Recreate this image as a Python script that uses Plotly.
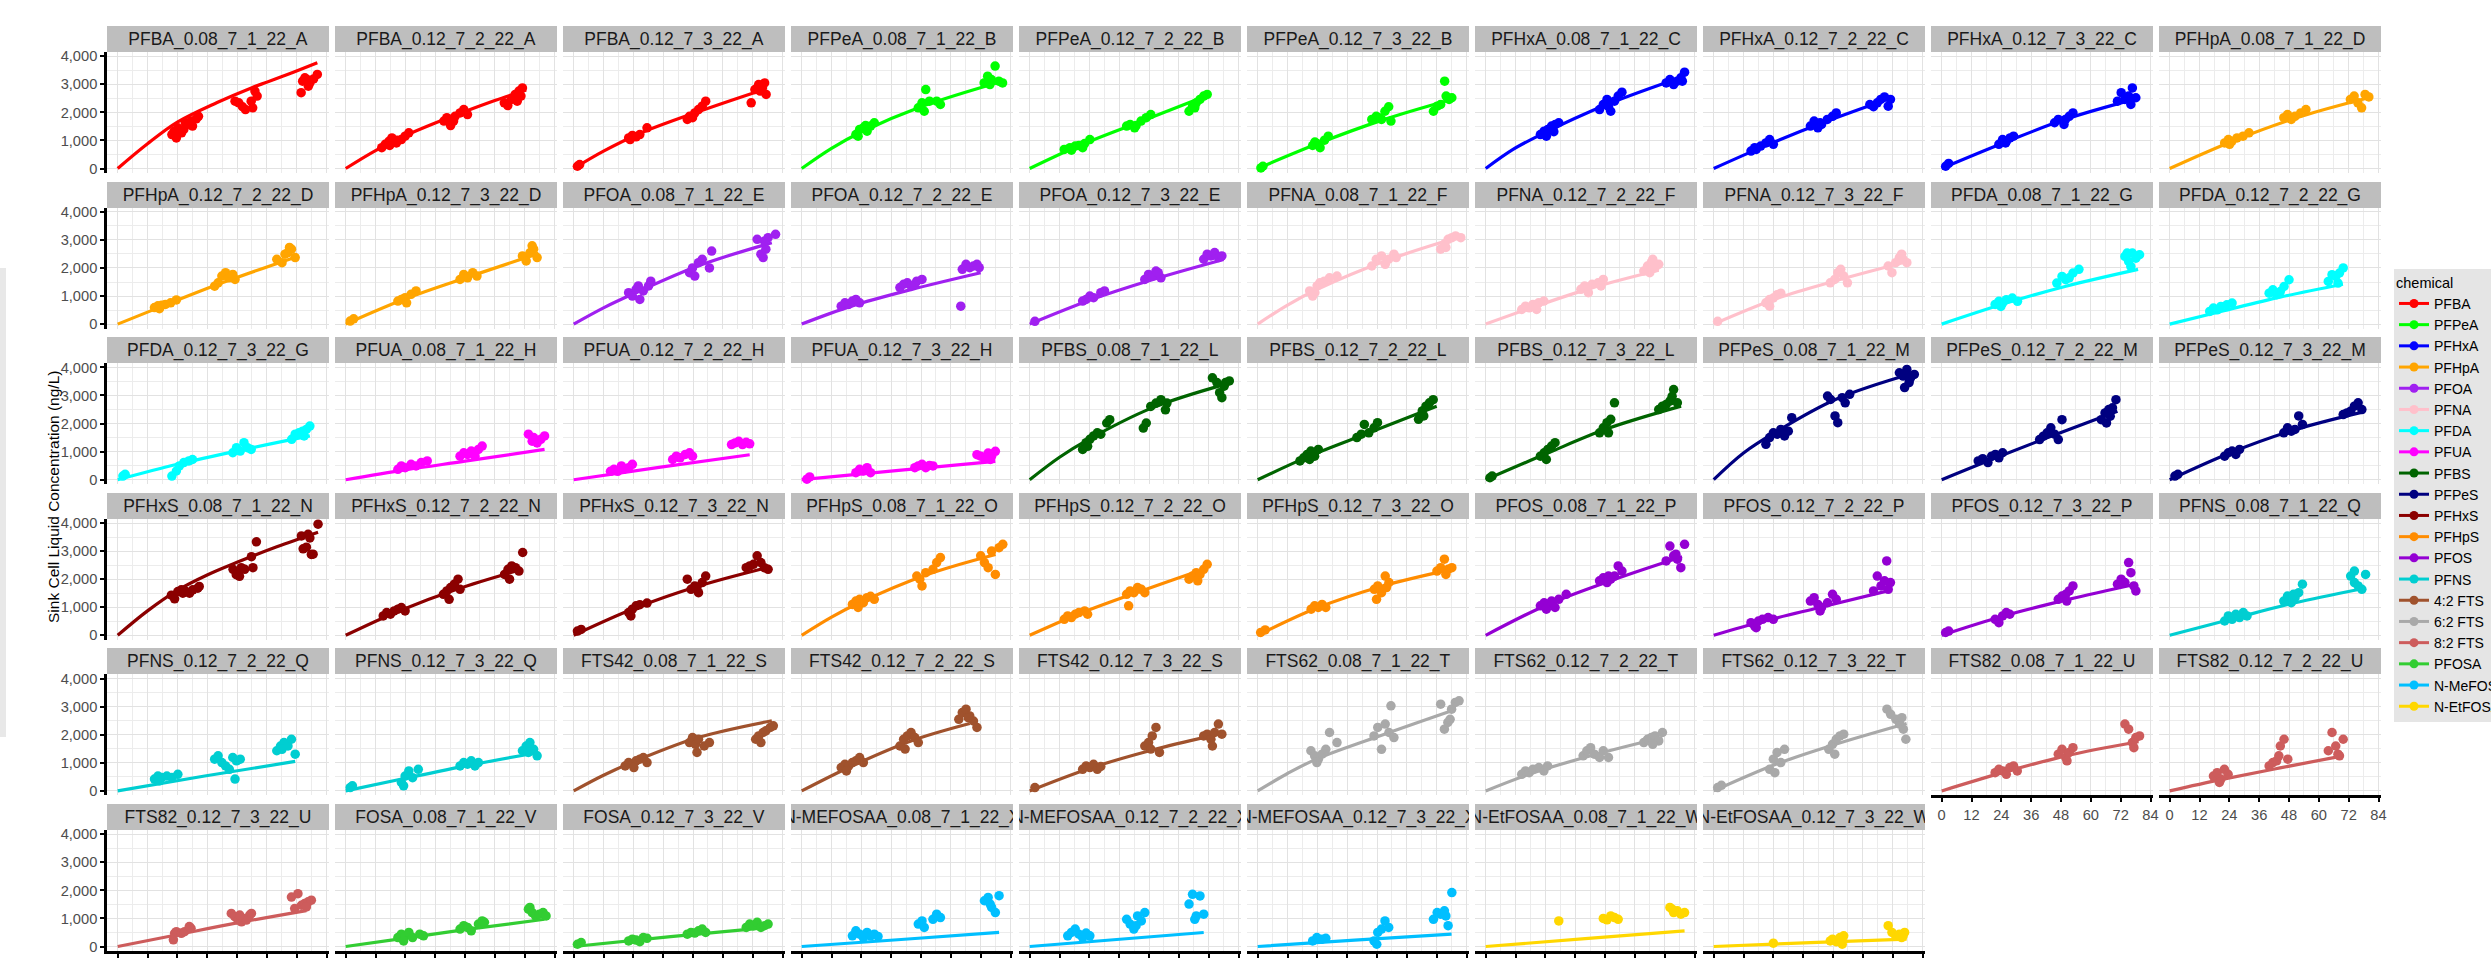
import plotly.graph_objects as go

# ---------------- data ----------------
panels = [
    "PFBA_0.08_7_1_22_A", "PFBA_0.12_7_2_22_A", "PFBA_0.12_7_3_22_A", "PFPeA_0.08_7_1_22_B", "PFPeA_0.12_7_2_22_B",
    "PFPeA_0.12_7_3_22_B", "PFHxA_0.08_7_1_22_C", "PFHxA_0.12_7_2_22_C", "PFHxA_0.12_7_3_22_C", "PFHpA_0.08_7_1_22_D",
    "PFHpA_0.12_7_2_22_D", "PFHpA_0.12_7_3_22_D", "PFOA_0.08_7_1_22_E", "PFOA_0.12_7_2_22_E", "PFOA_0.12_7_3_22_E",
    "PFNA_0.08_7_1_22_F", "PFNA_0.12_7_2_22_F", "PFNA_0.12_7_3_22_F", "PFDA_0.08_7_1_22_G", "PFDA_0.12_7_2_22_G",
    "PFDA_0.12_7_3_22_G", "PFUA_0.08_7_1_22_H", "PFUA_0.12_7_2_22_H", "PFUA_0.12_7_3_22_H", "PFBS_0.08_7_1_22_L",
    "PFBS_0.12_7_2_22_L", "PFBS_0.12_7_3_22_L", "PFPeS_0.08_7_1_22_M", "PFPeS_0.12_7_2_22_M", "PFPeS_0.12_7_3_22_M",
    "PFHxS_0.08_7_1_22_N", "PFHxS_0.12_7_2_22_N", "PFHxS_0.12_7_3_22_N", "PFHpS_0.08_7_1_22_O", "PFHpS_0.12_7_2_22_O",
    "PFHpS_0.12_7_3_22_O", "PFOS_0.08_7_1_22_P", "PFOS_0.12_7_2_22_P", "PFOS_0.12_7_3_22_P", "PFNS_0.08_7_1_22_Q",
    "PFNS_0.12_7_2_22_Q", "PFNS_0.12_7_3_22_Q", "FTS42_0.08_7_1_22_S", "FTS42_0.12_7_2_22_S", "FTS42_0.12_7_3_22_S",
    "FTS62_0.08_7_1_22_T", "FTS62_0.12_7_2_22_T", "FTS62_0.12_7_3_22_T", "FTS82_0.08_7_1_22_U", "FTS82_0.12_7_2_22_U",
    "FTS82_0.12_7_3_22_U", "FOSA_0.08_7_1_22_V", "FOSA_0.12_7_3_22_V", "N-MEFOSAA_0.08_7_1_22_X", "N-MEFOSAA_0.12_7_2_22_X",
    "N-MEFOSAA_0.12_7_3_22_X", "N-EtFOSAA_0.08_7_1_22_W", "N-EtFOSAA_0.12_7_3_22_W",
]

panel_chemical = (
    ["PFBA"] * 3 + ["PFPeA"] * 3 + ["PFHxA"] * 3 + ["PFHpA"] * 3 + ["PFOA"] * 3 + ["PFNA"] * 3 + ["PFDA"] * 3
    + ["PFUA"] * 3 + ["PFBS"] * 3 + ["PFPeS"] * 3 + ["PFHxS"] * 3 + ["PFHpS"] * 3 + ["PFOS"] * 3 + ["PFNS"] * 3
    + ["4:2 FTS"] * 3 + ["6:2 FTS"] * 3 + ["8:2 FTS"] * 3 + ["PFOSA"] * 2 + ["N-MeFOSAA"] * 3 + ["N-EtFOSAA"] * 2
)

chemicals = ["PFBA", "PFPeA", "PFHxA", "PFHpA", "PFOA", "PFNA", "PFDA", "PFUA", "PFBS", "PFPeS", "PFHxS", "PFHpS",
             "PFOS", "PFNS", "4:2 FTS", "6:2 FTS", "8:2 FTS", "PFOSA", "N-MeFOSAA", "N-EtFOSAA"]
chemical_colors = ["#FF0000", "#00FF00", "#0000FF", "#FFA500", "#A020F0", "#FFC0CB", "#00FFFF", "#FF00FF", "#006400",
                   "#000080", "#8B0000", "#FF8C00", "#9400D3", "#00CED1", "#A0522D", "#A9A9A9", "#CD5C5C", "#32CD32",
                   "#00BFFF", "#FFD700"]

x_ticks = [0, 12, 24, 36, 48, 60, 72, 84]
y_ticks = [0, 1000, 2000, 3000, 4000]

# observed sink concentrations (time in h, ng/L)
obs_time = [
    [21.8,23.6,22.7,24.2,26.6,28.0,29.5,31.6,32.5,30.1,25.7,27.2,47.2,48.7,50.2,51.4,54.3,55.2,56.1,53.7,73.8,74.4,76.2,77.3,78.8,80.3,76.7,75.3],
    [14.5,15.9,17.4,18.6,20.4,22.4,23.9,25.4,17.7,20.7,39.5,40.7,42.2,44.0,46.0,47.5,49.0,43.4,63.8,65.2,66.7,68.2,69.7,71.1,70.5,69.0],
    [1.5,2.4,22.1,23.6,25.1,26.6,29.5,22.7,45.7,46.6,48.7,50.2,51.7,53.1,47.8,71.4,72.9,74.4,75.9,77.4,75.0,76.8],
    [21.8,23.3,24.8,26.3,27.7,29.2,22.7,25.7,46.9,48.4,49.9,54.3,55.8,51.4,49.3,73.4,74.8,77.8,79.3,80.8,76.3,75.7],
    [13.9,16.2,18.3,19.8,22.1,24.2,16.8,21.3,39.0,40.4,42.8,44.8,46.9,48.7,42.2,64.1,65.5,67.0,68.5,70.0,71.4,66.4],
    [1.3,2.1,22.1,23.9,25.1,26.9,28.4,23.0,45.9,47.7,49.8,51.2,52.7,53.6,48.8,70.7,72.2,75.2,75.8,77.0,78.1,73.6],
    [22.0,23.5,25.0,26.5,28.0,29.4,24.4,27.4,45.8,47.3,48.8,50.3,51.8,53.3,54.8,49.4,72.6,74.1,75.6,77.0,78.5,80.0,79.1],
    [15.0,16.5,18.9,21.0,22.5,24.0,17.1,38.9,40.4,41.9,43.4,45.7,47.8,49.3,42.8,62.8,64.3,65.8,67.2,68.7,70.2,71.1],
    [1.6,2.8,23.0,24.5,26.0,27.5,28.9,25.7,45.4,46.9,49.2,51.3,52.8,49.8,70.7,72.2,73.7,75.2,76.7,78.1,76.1],
    [22.1,23.6,25.0,27.1,29.5,31.9,24.1,45.9,47.4,48.9,50.4,52.7,54.8,72.7,74.2,75.7,77.2,78.6,80.1],
    [14.8,16.2,17.7,19.2,21.3,23.6,16.8,39.0,40.4,41.9,43.4,44.9,47.2,46.3,64.0,66.1,67.3,68.5,69.9,71.4,69.1],
    [1.8,3.2,21.0,22.4,23.9,26.3,28.3,24.5,46.0,47.5,49.0,51.1,52.8,71.1,72.6,74.1,75.6,77.0,75.0],
    [22.1,23.6,25.1,26.6,28.0,30.1,31.0,26.0,46.6,47.8,48.7,50.2,51.7,54.6,55.5,73.8,75.3,76.2,77.3,78.2,81.2,76.7],
    [15.9,17.4,18.9,20.4,21.8,23.3,39.5,41.0,42.5,44.0,46.3,48.4,45.5,64.6,66.1,67.6,69.1,70.5,71.4,64.0],
    [2.1,21.3,22.7,24.2,25.7,28.6,30.1,46.3,47.8,49.3,50.8,52.8,51.7,70.0,71.4,72.9,74.4,75.9,77.3],
    [20.9,22.1,23.9,25.0,26.8,28.9,31.9,23.0,45.9,47.7,49.8,51.3,52.7,54.8,55.7,73.6,75.1,76.6,78.1,79.6,81.7,75.7],
    [14.5,16.0,17.5,19.0,21.3,23.4,20.5,38.3,39.8,41.3,42.8,45.2,47.3,46.4,63.6,65.1,66.6,68.1,69.6,67.2,66.0],
    [1.6,21.0,22.5,24.0,25.5,27.0,22.5,46.9,48.7,49.9,51.1,52.3,53.8,70.2,71.7,73.2,74.7,76.2,77.7,75.6],
    [21.5,23.0,24.5,26.0,28.4,30.5,23.8,46.3,48.4,49.9,52.8,55.2,51.3,73.7,75.2,76.7,78.1,79.6,76.1,74.6],
    [16.1,17.6,19.1,20.6,23.0,25.1,40.0,41.5,43.0,46.0,48.0,44.5,63.8,65.3,66.8,68.3,69.8,67.7],
    [2.1,3.0,21.8,23.6,24.8,26.6,28.6,30.1,46.3,47.8,49.3,50.8,52.2,53.7,70.0,71.4,72.9,74.4,75.9,77.3,75.0],
    [21.0,22.4,23.9,26.3,28.3,30.4,32.8,46.0,47.5,49.0,50.5,53.4,54.9,52.0,73.5,75.6,77.0,78.5,80.0,75.0],
    [14.8,16.2,17.7,20.1,22.1,23.6,19.2,39.8,41.3,42.8,44.9,46.6,47.8,63.5,64.9,66.4,67.9,69.4,70.8],
    [2.1,3.2,21.8,23.3,24.8,26.3,27.7,45.5,46.9,48.4,49.9,51.4,52.8,70.5,72.0,73.5,75.0,76.4,77.9,75.9],
    [21.3,22.7,24.2,25.7,27.2,28.6,31.0,32.2,23.3,45.7,46.9,48.7,50.8,52.8,54.6,55.2,73.5,75.3,76.4,77.3,78.8,80.3,78.2],
    [17.0,18.5,19.9,21.4,22.9,24.4,20.9,39.9,41.7,42.9,44.7,46.8,48.2,64.7,66.2,67.7,69.1,70.6,66.8],
    [1.7,2.6,22.0,23.5,25.0,26.5,27.9,24.4,45.8,47.3,48.8,50.3,51.8,49.4,69.6,71.1,72.6,74.1,75.6,77.1,75.0],
    [21.0,22.5,24.0,25.5,27.0,28.5,30.0,31.4,45.8,47.0,48.8,49.9,51.7,52.9,54.7,74.7,76.2,77.7,79.2,80.7,76.8,78.6],
    [14.7,16.5,18.6,20.1,21.6,23.0,24.5,39.4,40.9,42.4,43.9,45.4,46.9,48.4,64.2,65.7,67.2,68.7,70.1,67.8,66.3],
    [2.1,3.3,22.1,23.6,25.1,26.6,28.1,45.9,47.4,48.9,50.4,51.9,53.4,69.8,71.3,72.8,74.3,75.8,77.3],
    [21.6,22.9,24.2,26.2,27.5,28.9,30.2,32.2,32.8,25.6,46.4,47.7,48.4,49.7,51.1,53.8,54.4,55.8,49.0,73.9,74.6,75.9,77.3,77.9,78.6,80.6,76.6],
    [15.1,16.5,18.0,19.5,21.0,22.4,23.9,39.3,40.7,42.2,43.7,45.2,46.0,41.6,63.9,65.3,66.8,68.3,69.7,71.2,65.9],
    [1.5,3.0,22.1,23.6,25.1,26.6,29.5,23.0,45.7,47.2,48.7,50.2,51.7,53.1,49.6,69.4,70.8,72.3,73.8,75.3,76.7,78.2],
    [20.4,21.8,23.3,24.8,26.3,27.7,29.2,22.7,46.3,47.5,48.4,49.9,52.8,54.3,55.8,72.0,73.5,75.0,76.4,77.9,79.4,80.9],
    [13.9,15.3,16.8,18.3,19.8,22.1,23.3,39.0,40.4,41.9,43.4,44.9,46.3,39.8,64.1,65.5,67.0,68.5,70.0,71.4,67.6],
    [1.2,3.0,21.5,22.9,24.4,25.9,27.4,46.9,48.3,49.8,51.3,52.8,47.8,51.8,72.1,73.6,75.1,76.6,78.1,75.7],
    [22.0,23.5,25.0,26.5,27.9,29.4,32.4,24.4,45.8,47.3,48.8,50.3,51.8,53.3,54.8,49.4,72.6,74.1,75.6,77.1,78.5,80.0,76.5],
    [15.0,16.5,18.0,19.6,21.9,24.0,17.1,38.9,40.4,41.9,43.4,45.8,47.8,49.3,42.8,64.3,65.8,67.3,68.7,69.6,70.2,71.1],
    [1.6,2.8,21.5,23.0,24.5,26.0,27.4,46.9,48.4,49.9,51.3,52.8,50.3,70.7,72.2,73.7,75.2,76.1,77.3,78.1],
    [22.1,23.6,25.1,26.6,28.1,29.6,31.1,45.9,47.4,48.9,50.4,51.9,53.4,49.8,72.8,74.3,75.8,77.3,78.8,74.3],
    [14.8,16.2,17.7,19.8,21.8,24.2,16.8,39.0,40.4,41.9,43.4,44.9,46.3,47.8,47.2,49.3,64.0,65.5,66.9,68.5,69.9,71.4,66.1],
    [1.8,2.7,22.4,23.9,25.4,26.9,23.3,29.2,46.0,47.5,49.0,50.5,52.0,53.4,71.1,72.6,74.1,75.6,77.0,73.5],
    [20.7,22.1,23.6,25.1,26.6,28.0,29.5,24.2,46.6,47.8,49.0,50.2,52.5,54.6,49.6,73.2,74.4,76.2,77.3,79.1,80.3,75.3],
    [15.9,17.4,18.9,20.4,21.8,23.3,24.8,18.0,39.5,41.0,42.5,44.0,45.5,46.9,41.6,63.2,64.6,66.1,67.6,69.1,70.5,67.0],
    [2.1,21.3,22.7,24.2,25.7,27.2,28.6,46.3,47.8,49.3,50.8,52.2,48.7,70.0,71.4,72.9,74.4,75.9,77.3,73.5],
    [21.4,22.9,24.4,25.9,27.4,28.9,31.9,23.8,46.8,48.3,49.8,51.3,52.8,53.6,54.8,73.6,75.1,76.5,78.0,79.5,81.0,77.4],
    [14.5,16.0,17.5,19.0,21.4,23.4,24.9,39.2,40.7,42.2,43.7,45.8,47.3,49.4,63.6,65.1,66.6,68.1,69.6,71.1,67.2],
    [1.6,3.1,22.5,24.0,25.5,27.0,28.5,24.6,46.3,47.8,49.3,50.8,52.3,48.7,69.7,71.2,73.3,74.8,76.3,77.3,75.7],
    [21.5,23.0,24.5,26.0,27.4,28.9,30.4,46.9,48.4,49.9,51.3,52.8,50.4,73.7,75.2,76.7,78.1,79.6,77.3],
    [17.6,19.1,20.6,22.0,23.5,20.0,40.0,41.5,43.0,44.5,46.0,47.5,43.9,63.8,65.3,66.8,68.3,69.8,67.7],
    [22.4,22.9,23.6,25.6,26.9,29.5,28.8,45.7,47.1,48.4,49.8,50.4,51.8,53.1,53.8,49.1,69.9,72.5,71.2,73.9,75.2,76.6,77.9,75.9],
    [21.0,22.4,23.9,25.4,26.9,29.8,31.3,23.3,46.0,47.5,49.0,50.5,53.4,54.9,55.8,73.5,75.0,76.4,77.9,79.4,80.6,74.1],
    [1.5,3.0,22.1,23.6,25.1,28.0,29.5,26.6,45.7,47.2,48.7,50.2,51.7,53.1,69.4,70.8,72.3,73.8,75.3,76.7,78.2],
    [20.4,21.8,23.3,24.8,26.3,27.7,29.2,30.7,46.9,48.4,49.3,52.8,54.3,55.8,73.5,75.0,76.4,77.9,79.4,75.8],
    [15.3,16.8,18.3,19.8,21.3,22.7,24.2,39.0,40.4,41.9,43.4,44.9,46.3,42.8,64.1,65.5,67.0,68.5,70.0,66.4],
    [22.1,23.8,25.9,27.4,46.8,48.3,49.8,51.2,52.7,47.9,70.7,72.2,73.6,75.1,76.6,78.1,75.7],
    [29.4,47.3,48.8,51.8,53.3,50.3,74.1,75.6,77.1,78.5,80.0,75.0],
    [24.0,47.8,49.3,50.8,51.7,52.3,46.9,70.2,71.7,73.2,74.7,76.2,76.8,75.6],
]

obs_conc = [
    [1210,1090,1330,1450,1390,1570,1690,1770,1860,1510,1270,1630,2400,2340,2200,2100,2160,2760,2580,2400,2700,3110,3170,3050,3190,3350,2930,3230],
    [740,860,970,1090,910,1030,1150,1270,820,1010,1690,1810,1530,1860,1980,2100,1920,1690,2340,2240,2460,2640,2760,2870,2580,2400],
    [80,140,1090,1180,1130,1210,1450,1030,1750,1860,1980,2100,2220,2400,1810,2340,2810,2990,2870,2640,2760,3050],
    [1210,1390,1450,1330,1510,1630,1150,1530,2160,2340,2810,2400,2280,2400,2040,3050,3290,3650,3110,3050,3170,2990],
    [680,740,800,820,890,1030,650,740,1510,1570,1530,1690,1810,1920,1450,2040,2220,2340,2460,2580,2640,2160],
    [20,80,820,890,740,1010,1150,940,1750,1860,1750,2040,2200,1690,1810,2040,2220,3110,2580,2460,2520,2280],
    [1210,1330,1390,1510,1570,1630,1150,1310,2100,2280,2460,2040,2400,2580,2720,2200,3050,3170,2990,3110,3230,3430,3110],
    [620,740,800,910,1030,860,680,1510,1690,1450,1570,1750,1860,1980,1630,2280,2200,2340,2460,2550,2220,2460],
    [80,180,860,1030,970,1090,1150,910,1630,1750,1570,1860,1980,1750,2400,2700,2460,2580,2870,2520,2280],
    [910,1030,970,1090,1150,1270,860,1810,1920,1750,1860,1980,2100,2460,2580,2340,2160,2640,2550],
    [590,650,670,700,760,860,550,1350,1470,1710,1830,1650,1590,1770,2310,2190,2490,2550,2670,2370,2730],
    [110,190,820,880,940,1060,1180,760,1590,1770,1650,1830,1710,2430,2250,2540,2670,2370,2790],
    [1120,1000,1240,880,1180,1360,1530,1360,1830,2000,1710,2190,2310,2000,2600,3020,2490,2370,2670,3080,3200,2960],
    [640,760,700,820,880,760,1300,1420,1470,1360,1530,1590,1420,1950,2130,2010,2070,2130,2010,640],
    [100,820,880,1000,940,1120,1180,1590,1770,1710,1890,1650,1830,2310,2490,2430,2550,2370,2430],
    [1180,1000,1360,1470,1530,1650,1710,1120,2070,2310,2430,2130,2310,2490,2370,2670,2850,3020,3080,3140,3080,2730],
    [520,640,580,700,760,820,520,1240,1360,1120,1420,1470,1590,1360,1890,2070,2190,2010,2130,2310,1830],
    [100,760,880,930,1050,1100,640,1470,1590,1830,1950,1710,1470,2070,1830,2190,2370,2310,2190,2490],
    [700,810,750,870,930,810,630,1460,1700,1580,1820,1950,1650,2410,2230,2530,2350,2470,2050,2530],
    [450,570,510,630,690,750,1100,1220,1050,1340,1580,1160,1520,1760,1700,1820,2000,1460],
    [130,190,130,310,490,610,670,720,960,1140,1020,1320,1140,1080,1440,1620,1670,1730,1790,1910,1560],
    [370,490,430,550,490,610,670,840,960,900,1020,1080,1200,840,1620,1500,1310,1440,1560,1370],
    [300,370,300,370,430,550,490,720,840,780,900,960,840,1250,1310,1370,1250,1330,1280],
    [20,100,250,370,310,430,250,430,490,550,430,510,490,890,840,780,950,840,1010,720],
    [1080,1320,1440,1560,1670,1620,2020,2140,1190,1840,2020,2610,2730,2850,2490,2730,3630,3460,3100,2920,3460,3520,3330],
    [670,780,900,1020,840,1080,720,1500,1620,1970,1670,1850,2030,2150,2450,2620,2740,2850,2270],
    [70,130,840,960,1080,1200,1320,720,1670,1850,2030,2150,2740,1670,2500,2620,2680,2800,3210,2740,2970],
    [1260,1500,1670,1620,1790,1560,1730,2210,2980,2860,2270,2030,2920,2740,3040,3810,3690,3930,3630,3750,3280,3460],
    [670,750,610,840,900,780,960,1430,1550,1670,1850,1620,1430,2140,2140,2380,2500,2560,2850,2260,2020],
    [130,190,840,960,1020,900,1080,1670,1850,1730,1790,2270,1970,2320,2380,2440,2620,2740,2500],
    [1430,1300,1560,1500,1560,1500,1620,1680,1740,1620,2350,2160,2220,2410,2350,2800,2410,3330,2100,3540,3080,3140,3470,2880,2890,3960,3600],
    [690,810,750,870,930,990,870,1460,1580,1700,1820,2000,1640,1280,2170,2350,2470,2410,2290,2950,2000],
    [150,210,810,930,1050,1090,1150,690,2000,1640,1760,1520,1880,2110,1700,2410,2470,2530,2830,2590,2410,2350],
    [1100,1220,1280,1160,1340,1390,1280,990,2110,2000,1760,2230,2350,2590,2770,2830,2590,2410,3000,2170,3120,3240],
    [570,690,630,750,810,870,750,1460,1580,1520,1700,1640,1520,1050,2000,2110,2230,2170,2350,2530,1940],
    [100,190,930,1050,990,1100,990,1640,1760,1520,2110,1880,1280,1700,2290,2410,2710,2350,2410,2170],
    [1050,1160,1100,1220,990,1280,1460,930,1940,2050,1880,2000,2110,2470,2290,2110,2650,3180,2830,2710,2410,3240,2890],
    [450,330,510,570,630,570,270,1220,1340,1100,990,1160,1460,1280,870,1580,2110,1760,1940,2650,1640,1880],
    [100,150,570,450,690,810,750,1280,1400,1460,1580,1760,1220,1820,2000,1880,2590,2230,1760,1580],
    [510,690,570,750,630,810,690,1220,1400,1160,1340,1520,1820,1460,2110,1880,1760,1640,2170,2290],
    [420,530,480,530,480,590,360,1130,1250,1010,890,770,1190,1070,420,1130,1430,1600,1720,1600,1840,1310,1480],
    [120,180,300,530,710,470,180,770,890,1010,950,1070,890,1010,1430,1600,1720,1480,1250,1370],
    [890,1010,950,1070,1130,1190,1010,830,1720,1900,1660,1840,1600,1720,1370,1840,1960,2080,2140,2260,2320,1720],
    [830,950,890,1010,1070,1190,1010,710,1600,1840,1960,2080,1900,1720,1490,2550,2790,2910,2670,2490,2260,2610],
    [120,770,890,830,950,770,870,1600,1720,1960,2260,1370,1490,1960,2020,1840,2080,2380,2020,1600],
    [1430,1250,1130,1310,1480,2080,1720,1010,1960,2260,1480,2380,2080,3030,1900,3090,2200,2440,2910,3150,3210,2550],
    [590,710,650,770,830,710,890,1250,1430,1540,1310,1190,1430,1190,1720,1840,1900,1960,1780,2080,1660],
    [120,200,770,1130,1370,1010,1480,650,1480,1660,1840,1960,2020,1310,2910,2730,2550,2380,2200,1840,2610],
    [650,770,710,590,830,890,710,1310,1480,1190,1370,1540,1070,2380,2200,1720,1900,1960,1540],
    [530,650,420,770,590,300,890,1010,1070,1600,1840,1130,1250,1430,2080,1600,1250,1840,1310],
    [240,470,530,470,530,650,710,1180,1060,940,880,1000,940,1120,1180,1120,1760,1880,1350,1470,1530,1590,1650,1410],
    [320,440,380,500,320,440,380,200,620,740,680,560,800,910,860,1330,1210,1090,1150,1210,1090,1390],
    [80,140,200,260,230,320,290,170,440,500,480,560,620,500,680,800,740,860,680,740,800],
    [380,560,440,320,500,380,440,360,800,910,680,970,1150,1030,1630,1750,1390,1210,1810,1510],
    [380,500,620,440,320,480,380,970,800,620,1090,910,1210,740,1510,1860,1090,1800,1150,970],
    [200,320,260,290,200,500,620,910,680,80,970,1210,1150,1270,740,1920,1090],
    [910,1000,950,1030,970,1090,1390,1210,1270,1150,1210,1330],
    [120,260,170,320,80,380,200,740,500,380,440,380,500,320],
]

# fitted model curves (time in h, ng/L)
fit_time = [
    [0,12,24,40,54,68,80.3], [0,12,24,36,48,60,72.6], [0,12,26.6,50,75.3], [0,12,24,48,80.8], [0,20,46,71.4],
    [0,24,51,78], [0,11,22,48.7,80], [0,20,43,71.7], [0,26,50,78.1], [0,26,53,80],
    [0,18,42,72.9], [0,24,50,77.6], [0,12,24,50,79.7], [0,20,44,72], [0,25.7,49.3,78],
    [0,12,24,51,81], [0,19,43,69.6], [0,25.6,49.3,77.6], [0,26,50,79], [0,20.6,44.4,69.7],
    [0,24,51,77.3], [0,24,48,80], [0,35,70.8], [0,39,77.9], [0,12,23,49,80.3],
    [0,21,45,72], [0,25,49,78.6], [0,12,25,49,80.5], [0,20,44,70.7], [0,25,50.4,77.1],
    [0,12,24,36,48,64,80.6], [0,21,45,71], [0,25,50,78], [0,12,23,50,78], [0,18,43,71.4],
    [0,24,50,78], [0,25,52,79], [0,20,43,71.7], [0,24.5,51,78], [0,25,50,77],
    [0,35,71.4], [0,24,50,77.6], [0,12,25,50,79.7], [0,20,44,67.6], [0,24,49,73],
    [0,12,24,51,79.5], [0,19,43,71], [0,25,49,77.6], [0,24.5,50,79.2], [0,20.6,44.4,69.7],
    [0,24,48,75.9], [0,24,48,80], [0,39,78.2], [0,40,79.4], [0,35,70],
    [0,39,78], [0,40,80], [0,39,77.6],
]

fit_conc = [
    [0,880,1650,2350,2880,3340,3770], [0,640,1170,1620,2030,2420,2800], [0,620,1250,2020,2780], [0,720,1300,2200,3110], [0,820,1720,2600],
    [0,880,1750,2460], [0,680,1200,2280,3290], [0,780,1600,2520], [0,950,1760,2480], [0,1000,1860,2520],
    [0,640,1470,2430], [0,900,1700,2520], [0,580,1080,2070,2900], [0,640,1230,1830], [0,900,1580,2300],
    [0,680,1240,2240,3100], [0,600,1300,1920], [0,920,1550,2220], [0,750,1350,1950], [0,450,960,1420],
    [0,550,1080,1560], [0,350,660,1080], [0,450,890], [0,330,650], [0,800,1400,2550,3440],
    [0,850,1680,2620], [0,950,1820,2620], [0,950,1700,2860,3800], [0,720,1550,2440], [0,980,1780,2400],
    [0,870,1600,2150,2600,3150,3670], [0,850,1650,2350], [0,980,1750,2420], [0,650,1150,2150,2880], [0,700,1520,2400],
    [0,980,1750,2350], [0,1100,2000,2800], [0,500,1000,1620], [0,680,1280,1820], [0,580,1150,1650],
    [0,530,1050], [0,450,920,1370], [0,560,1070,1900,2500], [0,880,1780,2400], [0,800,1450,1960],
    [0,620,1150,2020,2900], [0,640,1270,1900], [0,950,1660,2400], [0,650,1250,1750], [0,400,820,1250],
    [0,420,840,1280], [0,300,600,970], [0,350,680], [0,250,500], [0,250,500],
    [0,230,440], [0,280,560], [0,140,260],
]

# ---------------- layout geometry ----------------
W, H = 2491, 964
ML, MR, MT, MB = 107, 110, 26, 13
PW, PH = W - ML - MR, H - MT - MB
COL_PITCH, PANEL_W = 228, 222
ROW_PITCH, STRIP_H, PANEL_H = 155.6, 26, 121
NCOL = 10

FONT = "Liberation Sans, Arial, Helvetica, sans-serif"
color_of = dict(zip(chemicals, chemical_colors))


def clamp(v):
    return min(1.0, max(0.0, v))


fig = go.Figure()
layout = dict()
annotations = []

for i, name in enumerate(panels):
    r, c = divmod(i, NCOL)
    sfx = "" if i == 0 else str(i + 1)
    chem = panel_chemical[i]
    col = color_of[chem]
    x0 = COL_PITCH * c
    top = ROW_PITCH * r
    xd = [clamp(x0 / PW), clamp((x0 + PANEL_W) / PW)]
    yd = [clamp(1 - (top + STRIP_H + PANEL_H) / PH), clamp(1 - (top + STRIP_H) / PH)]
    bottom = (r == 5) or (r == 4 and c >= 8)
    left = c == 0

    fig.add_trace(go.Scatter(x=fit_time[i], y=fit_conc[i], mode="lines",
                             line=dict(color=col, width=3.2, shape="spline", smoothing=1.0),
                             xaxis="x" + sfx, yaxis="y" + sfx, showlegend=False, hoverinfo="skip"))
    fig.add_trace(go.Scatter(x=obs_time[i], y=obs_conc[i], mode="markers",
                             marker=dict(color=col, size=9.5, line=dict(width=0)),
                             xaxis="x" + sfx, yaxis="y" + sfx, showlegend=False))

    layout["xaxis" + sfx] = dict(
        domain=xd, anchor="y" + sfx, range=[-4.3, 85.0], tickvals=x_ticks,
        showgrid=True, gridcolor="#e2e2e2", gridwidth=1.3,
        minor=dict(tickvals=[6, 18, 30, 42, 54, 66, 78], showgrid=True, gridcolor="#ececec", gridwidth=0.9),
        zeroline=False, showticklabels=bottom, ticks="outside" if bottom else "",
        ticklen=4, tickwidth=1.5, tickcolor="#000000",
        showline=bottom, linecolor="#000000", linewidth=2.5,
        tickfont=dict(family=FONT, size=14.66, color="#4d4d4d"), automargin=False, fixedrange=True,
    )
    layout["yaxis" + sfx] = dict(
        domain=yd, anchor="x" + sfx, range=[-160, 4150], tickvals=y_ticks, tickformat=",d",
        showgrid=True, gridcolor="#e2e2e2", gridwidth=1.3,
        minor=dict(tickvals=[500, 1500, 2500, 3500], showgrid=True, gridcolor="#ececec", gridwidth=0.9),
        zeroline=False, showticklabels=left, ticks="outside" if left else "",
        ticklen=4, tickwidth=1.5, tickcolor="#000000",
        showline=left, linecolor="#000000", linewidth=2.5,
        tickfont=dict(family=FONT, size=14.66, color="#4d4d4d"), automargin=False, fixedrange=True,
    )
    annotations.append(dict(
        text=name, xref="paper", yref="paper",
        x=(x0 + PANEL_W / 2) / PW, y=1 - (top + STRIP_H / 2) / PH,
        xanchor="center", yanchor="middle", showarrow=False,
        width=PANEL_W, height=STRIP_H, borderpad=0, borderwidth=0,
        bgcolor="#bebebe", font=dict(family=FONT, size=17.5, color="#1a1a1a"),
    ))

# legend entries
for chem, colr in zip(chemicals, chemical_colors):
    fig.add_trace(go.Scatter(x=[None], y=[None], mode="lines+markers", name=chem,
                             line=dict(color=colr, width=3), marker=dict(color=colr, size=9),
                             xaxis="x", yaxis="y", showlegend=True))

annotations.append(dict(
    text="Sink Cell Liquid Concentration (ng/L)", xref="paper", yref="paper",
    x=(53 - ML) / PW, y=1 - (497 - MT) / PH, textangle=-90, showarrow=False,
    xanchor="center", yanchor="middle", font=dict(family=FONT, size=15.5, color="#000000"),
))

fig.update_layout(
    **layout,
    annotations=annotations,
    width=W, height=H,
    margin=dict(l=ML, r=MR, t=MT, b=MB, autoexpand=False),
    paper_bgcolor="#ffffff", plot_bgcolor="#ffffff",
    font=dict(family=FONT, size=14.66, color="#000000"),
    showlegend=True,
    legend=dict(
        x=(2394 - ML) / PW, y=1 - (269 - MT) / PH, xanchor="left", yanchor="top",
        bgcolor="#e5e5e5", borderwidth=0, itemwidth=30, tracegroupgap=0,
        title=dict(text="chemical", font=dict(family=FONT, size=14.5, color="#000000")),
        font=dict(family=FONT, size=14, color="#000000"),
    ),
    shapes=[dict(type="rect", xref="paper", yref="paper", x0=(0 - ML) / PW, x1=(6 - ML) / PW,
                 y0=1 - (737 - MT) / PH, y1=1 - (268 - MT) / PH, fillcolor="#e8e8e8", line=dict(width=0),
                 layer="below")],
)

fig.write_html(
    "out.html",
    config={"displayModeBar": False},
    post_script="document.body.style.margin='0';document.body.style.padding='0';document.body.style.overflow='hidden';",
)
